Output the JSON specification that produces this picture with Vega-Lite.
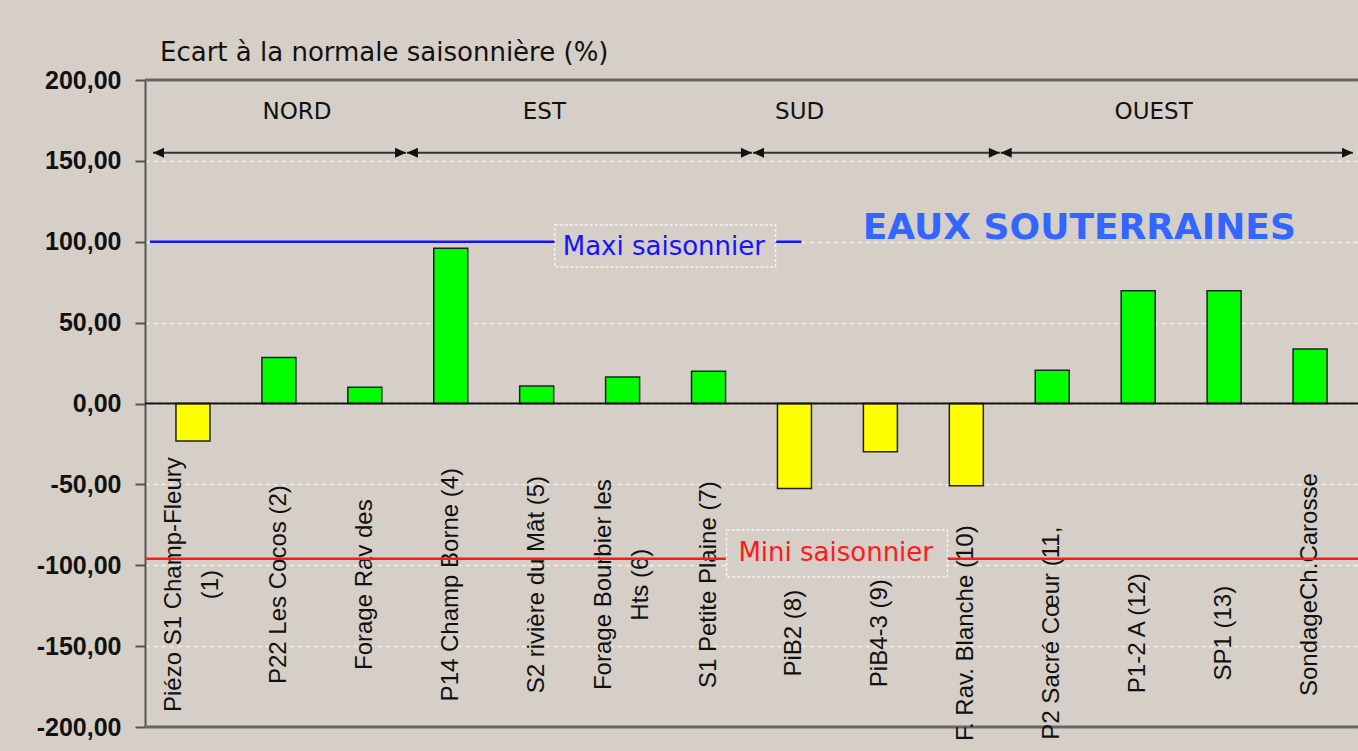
{
  "$schema": "https://vega.github.io/schema/vega-lite/v6.json",
  "width": 1213,
  "height": 647,
  "autosize": {"type": "none"},
  "padding": {"left": 145, "top": 80, "right": 0, "bottom": 24},
  "background": "#d5cfc8",
  "config": {
    "view": {"stroke": null},
    "axisX": {"disable": true},
    "axisY": {
      "labelFont": "Liberation Sans",
      "labelFontSize": 25,
      "labelFontWeight": "bold",
      "labelColor": "#111111",
      "labelPadding": 14,
      "tickSize": 10,
      "tickColor": "#555555",
      "tickWidth": 2,
      "domainColor": "#555555",
      "domainWidth": 2,
      "grid": true,
      "gridColor": "#f4f0ea",
      "gridDash": [4, 4],
      "gridWidth": 1.5
    }
  },
  "title": {
    "text": "Ecart à la normale saisonnière (%)",
    "anchor": "start",
    "frame": "group",
    "font": "DejaVu Sans",
    "fontSize": 26,
    "fontWeight": "normal",
    "color": "#111111",
    "dx": 15,
    "dy": 39,
    "offset": 20,
    "baseline": "alphabetic"
  },
  "data": {"values": [{}]},
  "datasets": {
    "bars": [
      {"n": 1, "label": "Piézo S1 Champ-Fleury\n(1)", "value": -23.2},
      {"n": 2, "label": "P22 Les Cocos (2)", "value": 28.5},
      {"n": 3, "label": "Forage Rav des", "value": 10},
      {"n": 4, "label": "P14 Champ Borne (4)", "value": 96},
      {"n": 5, "label": "S2 rivière du Mât (5)", "value": 10.8},
      {"n": 6, "label": "Forage Bourbier les\nHts (6)", "value": 16.4},
      {"n": 7, "label": "S1 Petite Plaine (7)", "value": 20},
      {"n": 8, "label": "PiB2 (8)", "value": -52.5},
      {"n": 9, "label": "PiB4-3 (9)", "value": -29.8},
      {"n": 10, "label": "F. Rav. Blanche (10)", "value": -50.8},
      {"n": 11, "label": "P2 Sacré Cœur (11,", "value": 20.5},
      {"n": 12, "label": "P1-2 A  (12)", "value": 69.7},
      {"n": 13, "label": "SP1 (13)", "value": 69.7},
      {"n": 14, "label": "SondageCh.Carosse", "value": 33.7}
    ],
    "regions": [
      {"r": "NORD", "a": 0.535, "b": 3.48, "c": 2.21},
      {"r": "EST", "a": 3.49, "b": 7.505, "c": 5.09},
      {"r": "SUD", "a": 7.517, "b": 10.39, "c": 8.06},
      {"r": "OUEST", "a": 10.4, "b": 14.5, "c": 12.18}
    ]
  },
  "layer": [
    {
      "mark": {"type": "rule", "color": "#666666", "strokeWidth": 3},
      "encoding": {"y": {"datum": 200, "scale": {"domain": [-200, 200], "nice": false}}}
    },
    {
      "mark": {"type": "rule", "color": "#666666", "strokeWidth": 3},
      "encoding": {"y": {"datum": -200, "scale": {"domain": [-200, 200], "nice": false}}}
    },
    {
      "data": {"name": "bars"},
      "mark": {"type": "bar", "size": 34, "stroke": "#222222", "strokeWidth": 1.5},
      "encoding": {
        "x": {"field": "n", "type": "quantitative", "scale": {"domain": [0.5, 14.5], "nice": false, "zero": false}},
        "y": {
          "field": "value",
          "type": "quantitative",
          "scale": {"domain": [-200, 200], "nice": false},
          "axis": {
            "title": null,
            "values": [-200, -150, -100, -50, 0, 50, 100, 150, 200],
            "labelExpr": "replace(replace(format(datum.value, '.2f'), '.', ','), '\u2212', '-')"
          }
        },
        "y2": {"datum": 0},
        "color": {"condition": {"test": "datum.value < 0", "value": "#ffff00"}, "value": "#00ff00"}
      }
    },
    {
      "mark": {"type": "rule", "color": "#111111", "strokeWidth": 2},
      "encoding": {"y": {"datum": 0, "scale": {"domain": [-200, 200], "nice": false}}}
    },
    {
      "mark": {"type": "rule", "color": "#1414ff", "strokeWidth": 2.5},
      "encoding": {
        "x": {"datum": 0.5, "type": "quantitative", "scale": {"domain": [0.5, 14.5], "nice": false, "zero": false}},
        "x2": {"datum": 8.08},
        "y": {"datum": 100, "scale": {"domain": [-200, 200], "nice": false}}
      }
    },
    {
      "mark": {"type": "rect", "fill": "#d5cfc8", "stroke": "#f6f3ef", "strokeDash": [3, 2], "strokeWidth": 1.5},
      "encoding": {
        "x": {"datum": 5.21, "type": "quantitative", "scale": {"domain": [0.5, 14.5], "nice": false, "zero": false}},
        "x2": {"datum": 7.78},
        "y": {"datum": 110.4, "scale": {"domain": [-200, 200], "nice": false}},
        "y2": {"datum": 84.4}
      }
    },
    {
      "mark": {"type": "text", "text": "Maxi saisonnier", "font": "DejaVu Sans", "fontSize": 26, "color": "#1414ff", "align": "center", "baseline": "middle"},
      "encoding": {
        "x": {"datum": 6.48, "type": "quantitative", "scale": {"domain": [0.5, 14.5], "nice": false, "zero": false}},
        "y": {"datum": 96.8, "scale": {"domain": [-200, 200], "nice": false}}
      }
    },
    {
      "data": {"name": "bars"},
      "transform": [{"filter": {"field": "n", "oneOf": [2, 3, 4, 5, 7, 14]}}],
      "mark": {"type": "text", "angle": 270, "align": "center", "baseline": "middle", "font": "Liberation Sans", "fontSize": 24, "color": "#111111", "lineBreak": "\n", "lineHeight": 37},
      "encoding": {
        "x": {"field": "n", "type": "quantitative", "scale": {"domain": [0.5, 14.5], "nice": false, "zero": false}},
        "y": {"datum": -112, "scale": {"domain": [-200, 200], "nice": false}},
        "text": {"field": "label"}
      }
    },
    {
      "data": {"name": "bars"},
      "transform": [{"filter": {"field": "n", "oneOf": [1, 6]}}],
      "mark": {"type": "text", "angle": 270, "align": "center", "baseline": "middle", "font": "Liberation Sans", "fontSize": 24, "color": "#111111", "lineBreak": "\n", "lineHeight": 37, "dy": -19},
      "encoding": {
        "x": {"field": "n", "type": "quantitative", "scale": {"domain": [0.5, 14.5], "nice": false, "zero": false}},
        "y": {"datum": -112, "scale": {"domain": [-200, 200], "nice": false}},
        "text": {"field": "label"}
      }
    },
    {
      "data": {"name": "bars"},
      "transform": [{"filter": {"field": "n", "oneOf": [8, 9, 10, 11, 12, 13]}}],
      "mark": {"type": "text", "angle": 270, "align": "center", "baseline": "middle", "font": "Liberation Sans", "fontSize": 24, "color": "#111111", "lineBreak": "\n", "lineHeight": 37},
      "encoding": {
        "x": {"field": "n", "type": "quantitative", "scale": {"domain": [0.5, 14.5], "nice": false, "zero": false}},
        "y": {"datum": -142, "scale": {"domain": [-200, 200], "nice": false}},
        "text": {"field": "label"}
      }
    },
    {
      "mark": {"type": "rule", "color": "#ff1a1a", "strokeWidth": 2.5},
      "encoding": {"y": {"datum": -96, "scale": {"domain": [-200, 200], "nice": false}}}
    },
    {
      "mark": {"type": "rect", "fill": "#d5cfc8", "stroke": "#f6f3ef", "strokeDash": [3, 2], "strokeWidth": 1.5},
      "encoding": {
        "x": {"datum": 7.21, "type": "quantitative", "scale": {"domain": [0.5, 14.5], "nice": false, "zero": false}},
        "x2": {"datum": 9.78},
        "y": {"datum": -78.2, "scale": {"domain": [-200, 200], "nice": false}},
        "y2": {"datum": -107.3}
      }
    },
    {
      "mark": {"type": "text", "text": "Mini saisonnier", "font": "DejaVu Sans", "fontSize": 26, "color": "#ff1a1a", "align": "center", "baseline": "middle"},
      "encoding": {
        "x": {"datum": 8.48, "type": "quantitative", "scale": {"domain": [0.5, 14.5], "nice": false, "zero": false}},
        "y": {"datum": -92.4, "scale": {"domain": [-200, 200], "nice": false}}
      }
    },
    {
      "data": {"name": "regions"},
      "mark": {"type": "rule", "color": "#333333", "strokeWidth": 2},
      "encoding": {
        "x": {"field": "a", "type": "quantitative", "scale": {"domain": [0.5, 14.5], "nice": false, "zero": false}},
        "x2": {"field": "b"},
        "y": {"datum": 155, "scale": {"domain": [-200, 200], "nice": false}}
      }
    },
    {
      "data": {"name": "regions"},
      "mark": {"type": "point", "shape": "M0,0 L2,-0.9 L2,0.9 Z", "filled": true, "opacity": 1, "color": "#111111", "size": 121},
      "encoding": {
        "x": {"field": "a", "type": "quantitative", "scale": {"domain": [0.5, 14.5], "nice": false, "zero": false}},
        "y": {"datum": 155, "scale": {"domain": [-200, 200], "nice": false}}
      }
    },
    {
      "data": {"name": "regions"},
      "mark": {"type": "point", "shape": "M0,0 L-2,-0.9 L-2,0.9 Z", "filled": true, "opacity": 1, "color": "#111111", "size": 121},
      "encoding": {
        "x": {"field": "b", "type": "quantitative", "scale": {"domain": [0.5, 14.5], "nice": false, "zero": false}},
        "y": {"datum": 155, "scale": {"domain": [-200, 200], "nice": false}}
      }
    },
    {
      "data": {"name": "regions"},
      "mark": {"type": "text", "font": "DejaVu Sans", "fontSize": 23, "color": "#111111", "align": "center", "baseline": "middle"},
      "encoding": {
        "x": {"field": "c", "type": "quantitative", "scale": {"domain": [0.5, 14.5], "nice": false, "zero": false}},
        "y": {"datum": 180, "scale": {"domain": [-200, 200], "nice": false}},
        "text": {"field": "r"}
      }
    },
    {
      "mark": {"type": "text", "text": "EAUX SOUTERRAINES", "font": "DejaVu Sans", "fontSize": 36, "fontWeight": "bold", "color": "#3366ff", "align": "center", "baseline": "middle"},
      "encoding": {
        "x": {"datum": 11.315, "type": "quantitative", "scale": {"domain": [0.5, 14.5], "nice": false, "zero": false}},
        "y": {"datum": 108.5, "scale": {"domain": [-200, 200], "nice": false}}
      }
    }
  ]
}
